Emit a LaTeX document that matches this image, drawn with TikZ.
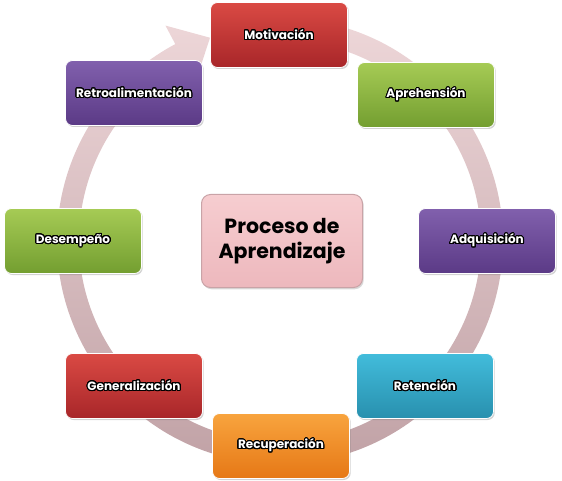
\documentclass[tikz,border=0pt]{standalone}
\usepackage{fontspec}
\newfontfamily\boxfont{Poppins}
\usepackage[copies]{contour}
\contourlength{1.1pt}
\contournumber{24}
\usetikzlibrary{shadows}
\definecolor{redT}{HTML}{DA4A44}
\definecolor{redB}{HTML}{A82629}
\definecolor{grnT}{HTML}{A6CB55}
\definecolor{grnB}{HTML}{739E30}
\definecolor{purT}{HTML}{8160AD}
\definecolor{purB}{HTML}{5B3A86}
\definecolor{tealT}{HTML}{42BCDB}
\definecolor{tealB}{HTML}{2890AE}
\definecolor{orT}{HTML}{F8A43E}
\definecolor{orB}{HTML}{E67816}
\definecolor{pinkT}{HTML}{F6CDD0}
\definecolor{pinkB}{HTML}{EDB8BD}
\definecolor{pinkD}{HTML}{C9A3A7}
\definecolor{ringT}{HTML}{EDD6D8}
\definecolor{ringB}{HTML}{BFA0A4}
\newcommand\lbl[1]{\contour{black}{\textcolor{white}{#1}}}
\begin{document}
\begin{tikzpicture}[x=1pt,y=1pt,
  stepbox/.style={rounded corners=7pt, minimum width=137pt, minimum height=65pt,
    draw=white, line width=0.8pt, inner sep=0pt,
    drop shadow={shadow xshift=1.2pt, shadow yshift=-1.5pt, opacity=0.35},
    font=\boxfont\bfseries\fontsize{12}{14}\selectfont},
  redbox/.style={stepbox, top color=redT, bottom color=redB},
  grnbox/.style={stepbox, top color=grnT, bottom color=grnB},
  purbox/.style={stepbox, top color=purT, bottom color=purB},
  tealbox/.style={stepbox, top color=tealT, bottom color=tealB},
  orbox/.style={stepbox, top color=orT, bottom color=orB},
  centerbox/.style={rounded corners=9pt, minimum width=161pt, minimum height=93pt,
    draw=pinkD, line width=1pt, top color=pinkT, bottom color=pinkB,
    drop shadow={shadow xshift=1.2pt, shadow yshift=-1.8pt, opacity=0.3},
    align=center, font=\boxfont\bfseries\fontsize{20.5}{25}\selectfont}
]
\useasboundingbox (0,0) rectangle (562,480);
% ring arrow
\begin{scope}[shift={(280,239)}]
\shade[top color=ringT, bottom color=ringB]
  (80:223) arc[start angle=80, end angle=-242, radius=223]
  -- (118:244) -- (109:215) -- (118:180) -- (118:201)
  arc[start angle=118, end angle=440, radius=201] -- cycle;
\end{scope}
% boxes
\node[redbox]  (mot) at (279,445) {\lbl{Motivación}};
\node[grnbox]  (apr) at (426,385) {\lbl{Aprehensión}};
\node[purbox]  (adq) at (487,239) {\lbl{Adquisición}};
\node[tealbox] (ret) at (425,94)  {\lbl{Retención}};
\node[orbox]   (rec) at (281,34)  {\lbl{Recuperación}};
\node[redbox]  (gen) at (134,94)  {\lbl{Generalización}};
\node[grnbox]  (des) at (73,239)  {\lbl{Desempeño}};
\node[purbox]  (rea) at (134,387) {\lbl{Retroalimentación}};
\node[centerbox] (pro) at (282,239) {Proceso de\\Aprendizaje};
\end{tikzpicture}
\end{document}
